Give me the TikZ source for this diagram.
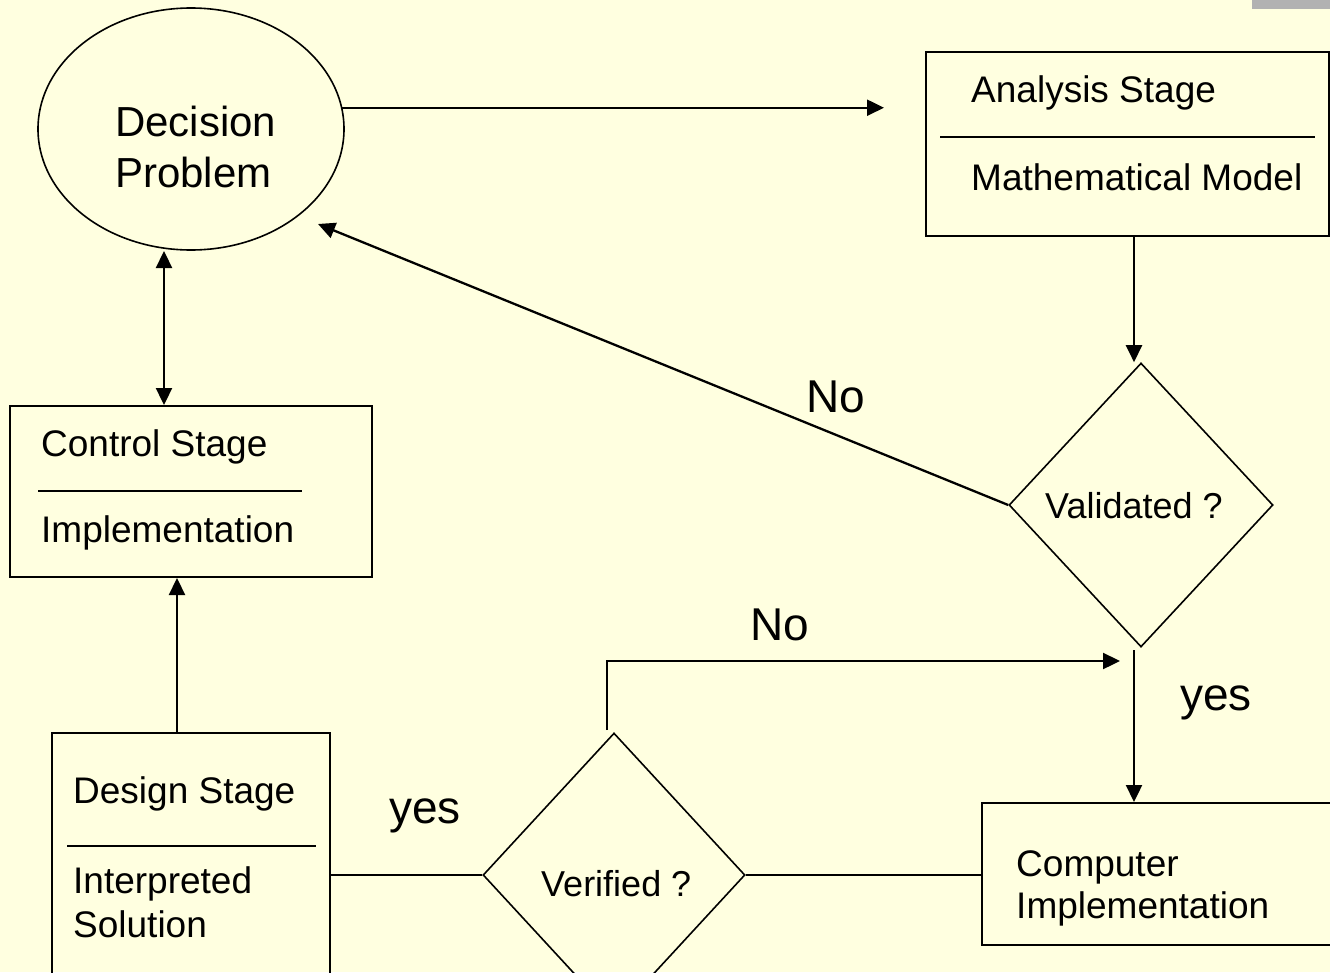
\documentclass[tikz,border=0pt]{standalone}
\usepackage{fontspec}
\setmainfont{Liberation Sans}
\usetikzlibrary{shapes.geometric,arrows.meta,calc}
\definecolor{bg}{HTML}{FFFFE0}
\definecolor{bar}{HTML}{B2B2B2}
\begin{document}
\begin{tikzpicture}[x=1pt,y=-1pt,
  box/.style={draw, line width=2pt, rectangle, inner sep=0},
  dia/.style={draw, line width=1.6pt, diamond, inner sep=0},
  arr/.style={line width=2.3pt, -{Triangle[length=17pt,width=16pt]}},
  dblarr/.style={line width=2.3pt, {Triangle[length=17pt,width=16pt]}-{Triangle[length=17pt,width=16pt]}},
  plain/.style={line width=2.2pt},
  divider/.style={line width=1.6pt},
  txt/.style={anchor=base west, inner sep=0, font=\fontsize{37}{44}\selectfont},
  bigtxt/.style={anchor=base west, inner sep=0, font=\fontsize{42}{50}\selectfont},
  lab/.style={anchor=base west, inner sep=0, font=\fontsize{46}{55}\selectfont},
  dtxt/.style={anchor=base west, inner sep=0, font=\fontsize{36}{43}\selectfont},
]
\fill[bg] (0,0) rectangle (1330,972);
\useasboundingbox (0,0) rectangle (1330,972);
\fill[bar] (1252,0) rectangle (1330,9);

% Decision problem
\node[ellipse, draw, line width=1.6pt, minimum width=306pt, minimum height=242pt, inner sep=0] (dp) at (191,129) {};
\node[bigtxt] (dp1) at (115,136) {Decision};
\node[bigtxt] (dp2) at (115,187) {Problem};

% Analysis stage
\node[box, minimum width=403pt, minimum height=184pt] (ana) at (1127.5,144) {};
\node[txt] (ana1) at (971,102) {Analysis Stage};
\draw[divider] (940,137) -- (1315,137);
\node[txt] (ana2) at (971,190) {Mathematical Model};

% Validated
\node[dia, minimum width=264pt, minimum height=284pt] (val) at (1141,505) {};
\node[dtxt] (valt) at (1045,518) {Validated ?};

% Control stage
\node[box, minimum width=362pt, minimum height=171pt] (ctrl) at (191,491.5) {};
\node[txt] (ctrl1) at (41,456) {Control Stage};
\draw[divider] (38,491) -- (302,491);
\node[txt] (ctrl2) at (41,542) {Implementation};

% Design stage
\node[box, minimum width=278pt, minimum height=277pt] (des) at (191,871.5) {};
\node[txt] (des1) at (73,803) {Design Stage};
\draw[divider] (67,846) -- (316,846);
\node[txt] (des2) at (73,893) {Interpreted};
\node[txt] (des3) at (73,937) {Solution};

% Verified
\node[dia, minimum width=262pt, minimum height=284pt] (ver) at (614,875) {};
\node[dtxt] (vert) at (541,896) {Verified ?};

% Computer implementation
\node[box, minimum width=363pt, minimum height=142pt] (comp) at (1163.5,874) {};
\node[txt] (comp1) at (1016,876) {Computer};
\node[txt] (comp2) at (1016,918) {Implementation};

% labels
\node[lab] (no1) at (806,412) {No};
\node[lab] (no2) at (750,640) {No};
\node[lab] (yes1) at (1180,710) {yes};
\node[lab] (yes2) at (389,823) {yes};

% connectors
\draw[arr, shorten >=41pt] (dp.8) -- (dp.8 -| ana.west);
\coordinate (notip) at (318,224);
\draw[arr] (val.west) -- (notip);
\coordinate (a2) at ($(ana.south)+(6.5,0)$);
\draw[arr] (a2) -- (a2 |- val.north);
\coordinate (dpb) at (164,251);
\draw[dblarr] (dpb) -- (dpb |- ctrl.north);
\coordinate (d1) at ($(des.north)+(-14,0)$);
\draw[arr] (d1) -- (d1 |- ctrl.south);
\coordinate (vy) at (1134,650);
\draw[arr] (vy) -- (vy |- comp.north);
\draw[plain] (des.east |- ver.west) -- (ver.west);
\draw[plain] (ver.east) -- (ver.east -| comp.west);
\coordinate (vtop) at (607,730);
\coordinate (noend) at (1120,661);
\draw[arr] (vtop) |- (noend);
\end{tikzpicture}
\end{document}
